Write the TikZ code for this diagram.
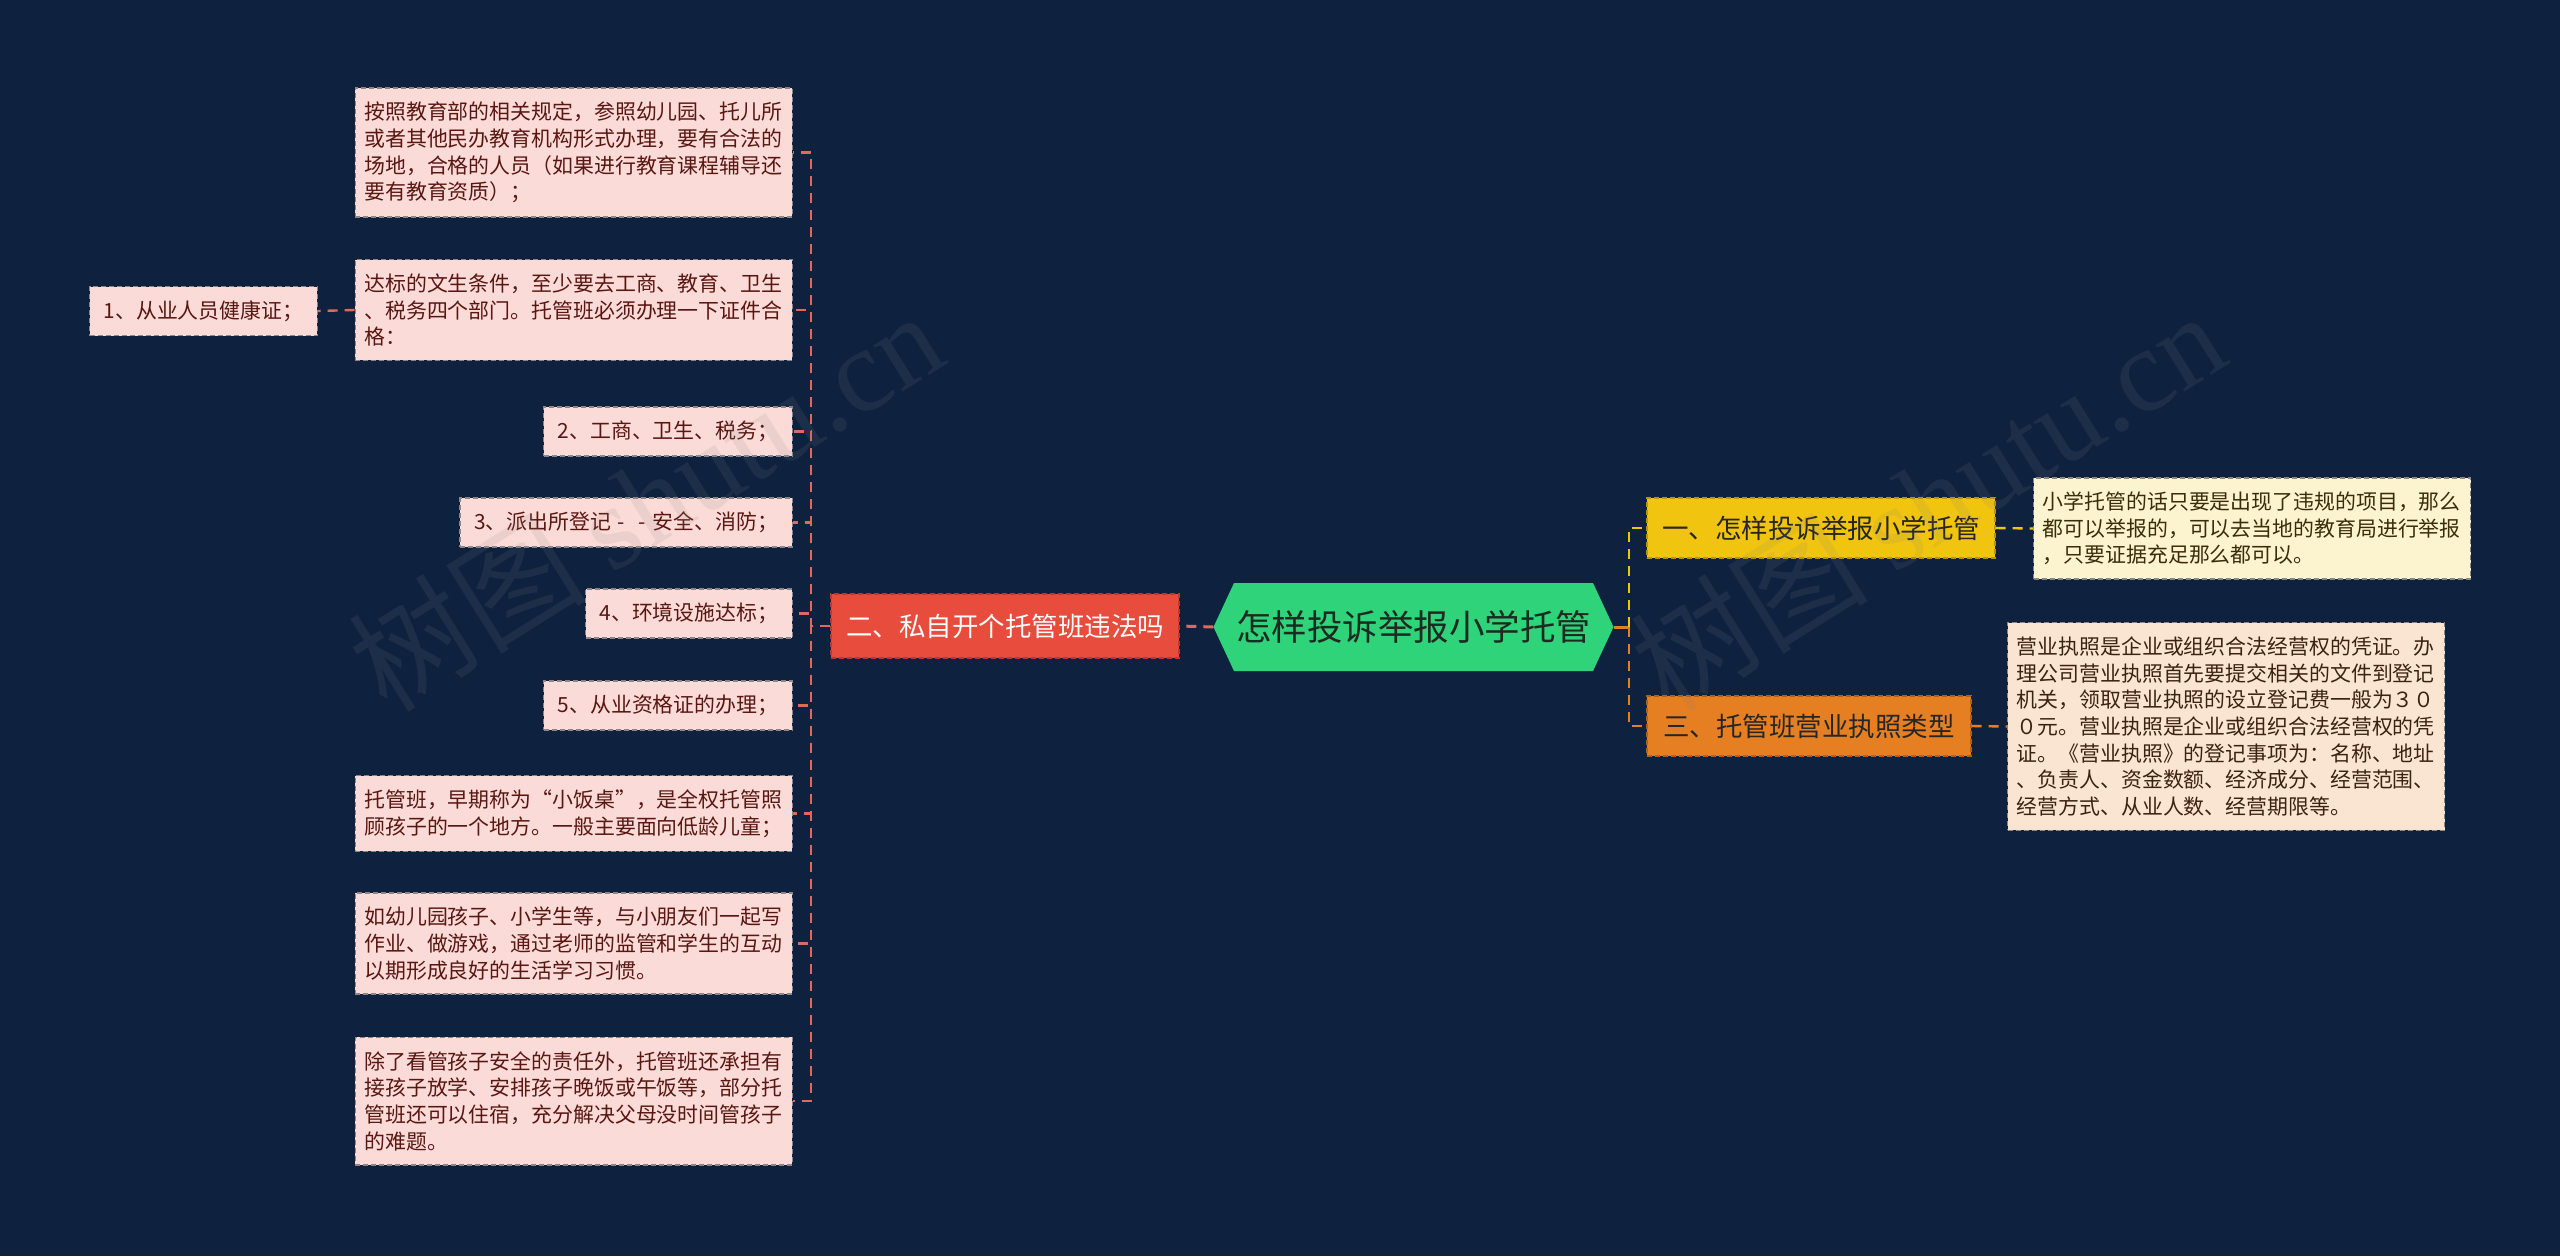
\documentclass[tikz,border=0pt]{standalone}
\usepackage{fontspec}
\newfontfamily\cjk{Noto Sans CJK SC}
\newfontfamily\wmserif{Liberation Serif}
\usetikzlibrary{shapes.symbols}
\definecolor{bg}{HTML}{0E2240}
\definecolor{rootfill}{HTML}{2FD37A}
\definecolor{roottext}{HTML}{1C2A22}
\definecolor{redfill}{HTML}{E74C3C}
\definecolor{redborder}{HTML}{B93A2D}
\definecolor{yelfill}{HTML}{F1C40F}
\definecolor{yelborder}{HTML}{B8940A}
\definecolor{orgfill}{HTML}{E67E22}
\definecolor{orgborder}{HTML}{B0601A}
\definecolor{pinkfill}{HTML}{FADBD8}
\definecolor{pinktext}{HTML}{5A1712}
\definecolor{creamfill}{HTML}{FCF3CF}
\definecolor{creamtext}{HTML}{3A2E08}
\definecolor{peachfill}{HTML}{FAE5D3}
\definecolor{peachtext}{HTML}{3A2410}
\definecolor{leafborder}{HTML}{8F8584}
\definecolor{lconncol}{HTML}{E2685A}
\definecolor{yconncol}{HTML}{F1C40F}
\definecolor{oconncol}{HTML}{E67E22}
\newcommand{\cdash}{\hbox to 1em{\hss-\hss}}
\tikzset{
  leaffont/.style={font=\cjk\fontsize{20.9pt}{26.7pt}\selectfont},
  leafbox/.style={leaffont, draw=leafborder, line width=1.4pt, dash pattern=on 5pt off 3pt, align=left},
  multileaf/.style={leafbox, text width=419pt, inner xsep=9pt, inner ysep=14pt},
  singleleaf/.style={leafbox, inner xsep=14pt, inner ysep=0pt, minimum height=49pt},
  pinkleaf/.style={fill=pinkfill, text=pinktext},
  creamleaf/.style={fill=creamfill, text=creamtext},
  peachleaf/.style={fill=peachfill, text=peachtext},
  branchbox/.style={font=\cjk\fontsize{26.5pt}{32pt}\selectfont, line width=1.4pt, dash pattern=on 5pt off 3pt, inner xsep=13pt, inner ysep=0pt},
  rootbox/.style={shape=signal, signal to=west and east, signal pointer angle=130, fill=rootfill, text=roottext, font=\cjk\fontsize{35.5pt}{40pt}\selectfont, inner xsep=2pt, minimum height=88pt},
  lconn/.style={draw=lconncol, line width=2.4pt, dash pattern=on 10pt off 7pt},
  yconn/.style={draw=yconncol, line width=2.4pt, dash pattern=on 10pt off 7pt},
  oconn/.style={draw=oconncol, line width=2.4pt, dash pattern=on 10pt off 7pt},
  wmark/.style={text=gray, text opacity=0.13, rotate=32, inner sep=0pt}
}
\begin{document}
\begin{tikzpicture}[x=1pt,y=-1pt]
\useasboundingbox (0,0) rectangle (2560,1256);
\fill[bg] (0,0) rectangle (2560,1256);

% root
\node[rootbox] (root) at (1413.5,627) {怎样投诉举报小学托管};

% branches
\node[branchbox, fill=redfill, draw=redborder, text=white, minimum width=348pt, minimum height=64pt] (b2) at (1005,626) {二、私自开个托管班违法吗};
\node[branchbox, fill=yelfill, draw=yelborder, text=black!85, minimum width=348pt, minimum height=60pt] (b1) at (1821,528) {一、怎样投诉举报小学托管};
\node[branchbox, fill=orgfill, draw=orgborder, text=black!85, minimum width=324pt, minimum height=60pt] (b3) at (1809,726) {三、托管班营业执照类型};

% left leaves
\node[multileaf, pinkleaf, anchor=east] (l1) at (793,152.5) {按照教育部的相关规定，参照幼儿园、托儿所\\或者其他民办教育机构形式办理，要有合法的\\场地，合格的人员（如果进行教育课程辅导还\\要有教育资质）；};
\node[multileaf, pinkleaf, anchor=east] (l2) at (793,310) {达标的文生条件，至少要去工商、教育、卫生\\、税务四个部门。托管班必须办理一下证件合\\格：};
\node[singleleaf, pinkleaf, anchor=east] (l2c) at (318,311) {1、从业人员健康证；};
\node[singleleaf, pinkleaf, anchor=east] (l3) at (793,431.5) {2、工商、卫生、税务；};
\node[singleleaf, pinkleaf, anchor=east] (l4) at (793,522.5) {3、派出所登记\cdash\cdash 安全、消防；};
\node[singleleaf, pinkleaf, anchor=east] (l5) at (793,613.5) {4、环境设施达标；};
\node[singleleaf, pinkleaf, anchor=east] (l6) at (793,705.5) {5、从业资格证的办理；};
\node[multileaf, pinkleaf, anchor=east] (l7) at (793,813.5) {托管班，早期称为“小饭桌”，是全权托管照\\顾孩子的一个地方。一般主要面向低龄儿童；};
\node[multileaf, pinkleaf, anchor=east] (l8) at (793,943.5) {如幼儿园孩子、小学生等，与小朋友们一起写\\作业、做游戏，通过老师的监管和学生的互动\\以期形成良好的生活学习习惯。};
\node[multileaf, pinkleaf, anchor=east] (l9) at (793,1101) {除了看管孩子安全的责任外，托管班还承担有\\接孩子放学、安排孩子晚饭或午饭等，部分托\\管班还可以住宿，充分解决父母没时间管孩子\\的难题。};

% right leaves
\node[multileaf, creamleaf, anchor=west] (r1) at (2033,528.5) {小学托管的话只要是出现了违规的项目，那么\\都可以举报的，可以去当地的教育局进行举报\\，只要证据充足那么都可以。};
\node[multileaf, peachleaf, anchor=west] (r3) at (2007,726.5) {营业执照是企业或组织合法经营权的凭证。办\\理公司营业执照首先要提交相关的文件到登记\\机关，领取营业执照的设立登记费一般为３０\\０元。营业执照是企业或组织合法经营权的凭\\证。《营业执照》的登记事项为：名称、地址\\、负责人、资金数额、经济成分、经营范围、\\经营方式、从业人数、经营期限等。};

% elbow points
\coordinate (elL) at (811,626);
\coordinate (elR) at (1629,627);

% connectors
\draw[lconn, line width=3pt] (root.west) -- (b2.east);
\foreach \n in {l1,l2,l3,l4,l5,l6,l7,l8,l9}{
  \draw[lconn] (b2.west) -- (elL) |- (\n.east);
}
\draw[lconn] (l2.west) -- (l2c.east);
\draw[draw=oconncol, line width=3pt] (root.east) -- (elR);
\draw[yconn] (elR) |- (b1.west);
\draw[oconn] (elR) |- (b3.west);
\draw[yconn] (b1.east) -- (r1.west);
\draw[oconn] (b3.east) -- (r3.west);

% watermarks
\node[wmark] (wm1) at (645,500) {\cjk\fontsize{119pt}{119pt}\selectfont 树图 \wmserif shutu.cn};
\node[wmark] (wm2) at (1927,500) {\cjk\fontsize{119pt}{119pt}\selectfont 树图 \wmserif shutu.cn};
\end{tikzpicture}
\end{document}
